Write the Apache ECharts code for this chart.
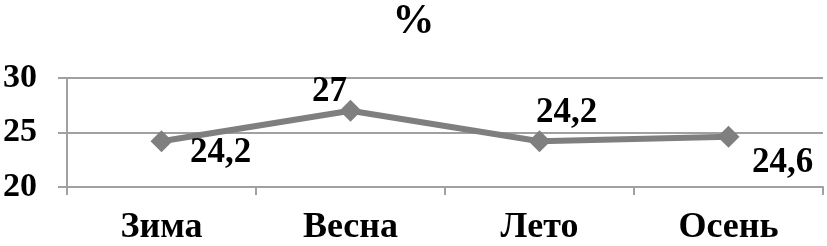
<!DOCTYPE html>
<html><head><meta charset="utf-8">
<script src="https://cdn.jsdelivr.net/npm/echarts@6/dist/echarts.min.js"></script>
<style>html,body{margin:0;padding:0;background:#fff}#c{width:827px;height:246px}</style>
</head><body><div id="c"></div>
<script>
const categories = ['Зима', 'Весна', 'Лето', 'Осень'];
const values = [24.2, 27, 24.2, 24.6];
const yTicks = [20, 25, 30];
const labelOffsets = [[59, 12], [-21, -19], [27, -28], [54, 26]];

const FONT = '"Liberation Serif", "Times New Roman", serif';
const chart = echarts.init(document.getElementById('c'));
chart.setOption({
  animation: false,
  backgroundColor: '#fff',
  title: {
    text: '%', left: 'center', top: -4,
    textStyle: { fontFamily: FONT, fontWeight: 'bold', fontSize: 42, color: '#000' }
  },
  grid: { left: 66, right: 4, top: 78, bottom: 57 },
  xAxis: {
    type: 'category', data: categories, boundaryGap: true,
    axisLine: { lineStyle: { color: '#a0a0a0', width: 2 } },
    axisTick: { show: true, length: 8, lineStyle: { color: '#a0a0a0', width: 2 } },
    axisLabel: { margin: 23, fontFamily: FONT, fontWeight: 'bold', fontSize: 36, color: '#000' }
  },
  yAxis: {
    type: 'value', min: yTicks[0], max: yTicks[yTicks.length - 1], interval: 5,
    axisLine: { show: true, lineStyle: { color: '#a0a0a0', width: 2 } },
    axisTick: { show: true, length: 9, lineStyle: { color: '#a0a0a0', width: 2 } },
    splitLine: { lineStyle: { color: '#a0a0a0', width: 2 } },
    axisLabel: { margin: 30, fontFamily: FONT, fontWeight: 'bold', fontSize: 34, color: '#000' }
  },
  series: [{
    type: 'line',
    data: values.map((v, i) => ({
      value: v,
      label: { offset: labelOffsets[i] }
    })),
    lineStyle: { color: '#7f7f7f', width: 6 },
    itemStyle: { color: '#7f7f7f' },
    symbol: 'diamond', symbolSize: 22,
    label: {
      show: true, position: 'inside',
      fontFamily: FONT, fontWeight: 'bold', fontSize: 35, color: '#000',
      formatter: p => String(p.value).replace('.', ',')
    }
  }]
});
</script></body></html>
